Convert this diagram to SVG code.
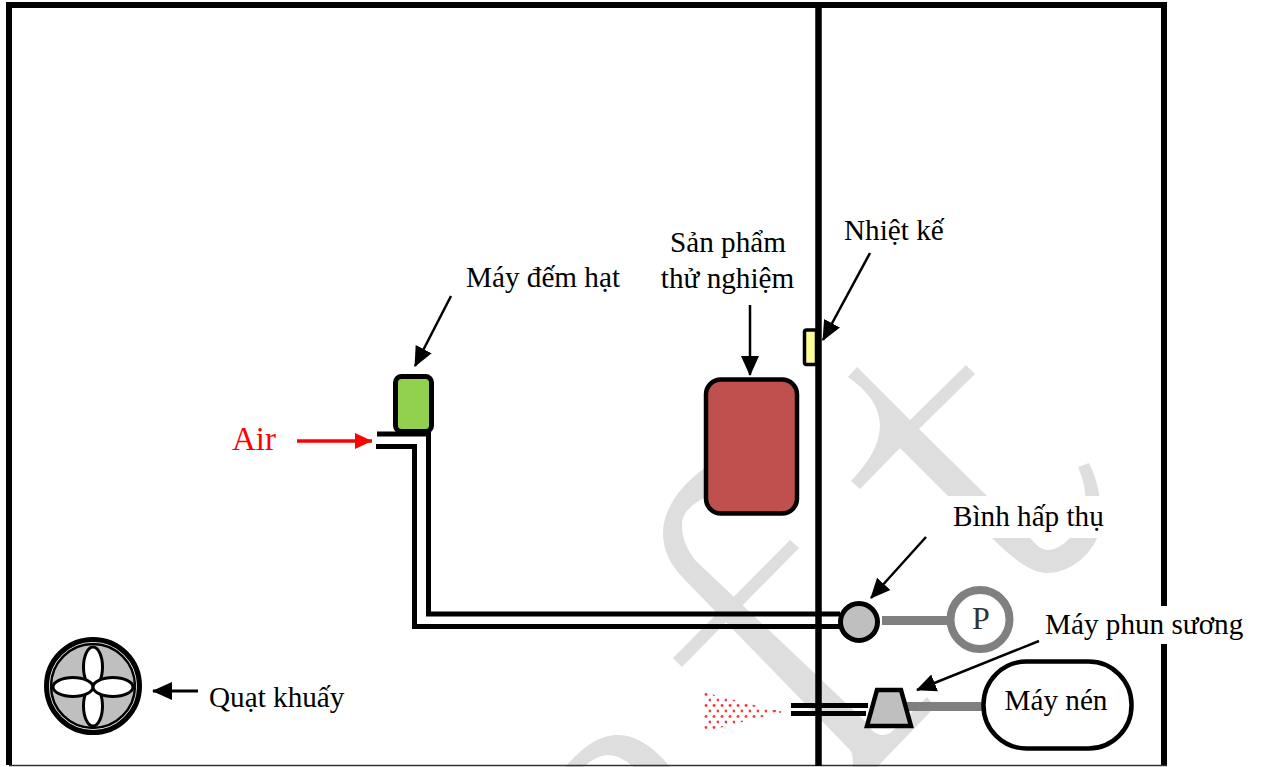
<svg xmlns="http://www.w3.org/2000/svg" width="1263" height="767" viewBox="0 0 1263 767">
<style>
text{font-family:"Liberation Serif","Times New Roman",serif;font-size:29.2px;fill:#000}
.wm{fill:#dedede;stroke:none}
.wall{fill:none;stroke:#000;stroke-width:6}
.ln{fill:none;stroke:#000;stroke-width:5}
.thin{fill:none;stroke:#000;stroke-width:2.500}
.gr{fill:none;stroke:#808080;stroke-width:9}
.pt{fill:#fff;stroke:#000;stroke-width:3}
.sd{fill:#f33}
</style>
<defs>
<marker id="ah" markerUnits="userSpaceOnUse" markerWidth="20" markerHeight="20" refX="19" refY="10" orient="auto"><path d="M0 1L20 10L0 19z" fill="#000"/></marker>
<marker id="ahr" markerUnits="userSpaceOnUse" markerWidth="17" markerHeight="18" refX="17" refY="9" orient="auto"><path d="M0 1L17 9L0 17z" fill="#f00"/></marker>
<pattern id="dots" width="8" height="11" patternUnits="userSpaceOnUse" patternTransform="translate(703 692)"><circle cx="3" cy="2.500" r="1.400" fill="#f33"/><circle cx="7" cy="8" r="1.400" fill="#f33"/></pattern>
<clipPath id="fanclip"><circle cx="93" cy="686" r="42"/></clipPath>
</defs>
<rect width="1263" height="767" fill="#fff"/>
<g id="watermark">
<path class="wm" d="M848 377L857 367L910 420L966 365L975 374L919 429L987 496L1030 538C1035 543 1040 550 1048 550C1055 550 1062 546 1070 538C1090 515 1088 490 1078 467L1089 463C1100 485 1105 515 1097 538C1090 555 1070 573 1047 573C1030 573 1010 556 992 538L948 496L900 448L860 489L851 481C885 445 895 410 848 377Z"/>
<path class="wm" d="M705 468C680 485 663 510 663 533C663 550 670 565 685 580L850 750C853 754 853 760 853 767L877 767L935 707L927 697L897 727C892 732 888 735 883 735C876 735 870 730 867 723L695 560C688 550 682 540 682 525C682 512 692 505 705 497Z"/>
<path class="wm" d="M790 540L799 548L682 667L673 658Z"/>
<path class="wm" d="M565 767C585 745 600 735 618 735C635 735 650 745 664 760L670 767L634 767C625 760 617 755 608 755C600 755 592 760 583 767Z"/>
<rect x="947" y="496" width="160" height="42" fill="#fff"/>
</g>
<g id="walls">
<path class="wall" d="M9 765V5H1164V765"/>
<path d="M9 765.500H1167" stroke="#333" stroke-width="1.500"/>
<path d="M818.500 5V766" stroke="#000" stroke-width="6.500"/>
<rect x="1045" y="606" width="200" height="38" fill="#fff"/>
</g>
<g id="connectors">
<path class="ln" d="M377 434H428.500V614H840"/>
<path class="ln" d="M376 446.500H414.500V626.500H840"/>
<path class="thin" d="M451 296L415 366" marker-end="url(#ah)"/>
<path class="thin" d="M750 305V375" marker-end="url(#ah)"/>
<path class="thin" d="M870 253L823 340" marker-end="url(#ah)"/>
<path class="thin" d="M926 537L871 598" marker-end="url(#ah)"/>
<path class="thin" d="M1039 641L917 690" marker-end="url(#ah)"/>
<path d="M198 691H153" fill="none" stroke="#000" stroke-width="3" marker-end="url(#ah)"/>
<path d="M297 441H372" fill="none" stroke="#f00" stroke-width="3.500" marker-end="url(#ahr)"/>
<path class="gr" d="M882 620.500H950"/>
<path class="gr" d="M905 706.500H985"/>
<path class="ln" d="M791 705.500H868M791 713.500H866"/>
</g>
<g id="air"><text x="232" y="450" style="fill:#f00;font-size:33px">Air</text></g>
<g id="counter"><rect x="395.500" y="376.500" width="36" height="55" rx="6" fill="#92d050" stroke="#000" stroke-width="5"/><text x="466" y="287">Máy đếm hạt</text></g>
<g id="product"><rect x="706" y="379.500" width="91" height="134" rx="15" fill="#c0504d" stroke="#000" stroke-width="4.500"/><text x="728" y="252" text-anchor="middle">Sản phẩm</text><text x="727.500" y="288" text-anchor="middle">thử nghiệm</text></g>
<g id="thermo"><rect x="804.500" y="330" width="12" height="34.500" rx="2" fill="#ffff99" stroke="#000" stroke-width="3.500"/><text x="844" y="240">Nhiệt kế</text></g>
<g id="absorber"><circle cx="859" cy="622" r="18.500" fill="#bfbfbf" stroke="#000" stroke-width="5"/><text x="953" y="526">Bình hấp thụ</text></g>
<g id="pump"><circle cx="980" cy="619.500" r="29.500" fill="#fff" stroke="#808080" stroke-width="8"/><text x="981" y="629" text-anchor="middle" style="font-size:32px;fill:#333">P</text></g>
<g id="sprayer"><path d="M877 690H901L911 726H867z" fill="#bfbfbf" stroke="#000" stroke-width="4.500"/><text x="1045" y="634">Máy phun sương</text></g>
<g id="spray"><path d="M703 692L782 712L703 732z" fill="url(#dots)"/><circle class="sd" cx="775" cy="711" r="1.100"/><circle class="sd" cx="780" cy="712" r="1"/></g>
<g id="compressor"><rect x="983.500" y="661.500" width="148" height="87" rx="43" fill="#fff" stroke="#000" stroke-width="4.500"/><text x="1056" y="710" text-anchor="middle">Máy nén</text></g>
<g id="fan">
<circle cx="93" cy="686" r="46.500" fill="#fff" stroke="#000" stroke-width="5"/>
<circle cx="93" cy="686" r="42" fill="#bfbfbf" stroke="#000" stroke-width="2.500"/>
<g clip-path="url(#fanclip)">
<ellipse class="pt" cx="93" cy="667" rx="9.500" ry="20"/>
<ellipse class="pt" cx="93" cy="706" rx="9.500" ry="20"/>
<ellipse class="pt" cx="73" cy="687" rx="20" ry="9.500"/>
<ellipse class="pt" cx="113" cy="687" rx="20" ry="9.500"/>
</g>
<text x="209" y="707">Quạt khuấy</text></g>
</svg>
